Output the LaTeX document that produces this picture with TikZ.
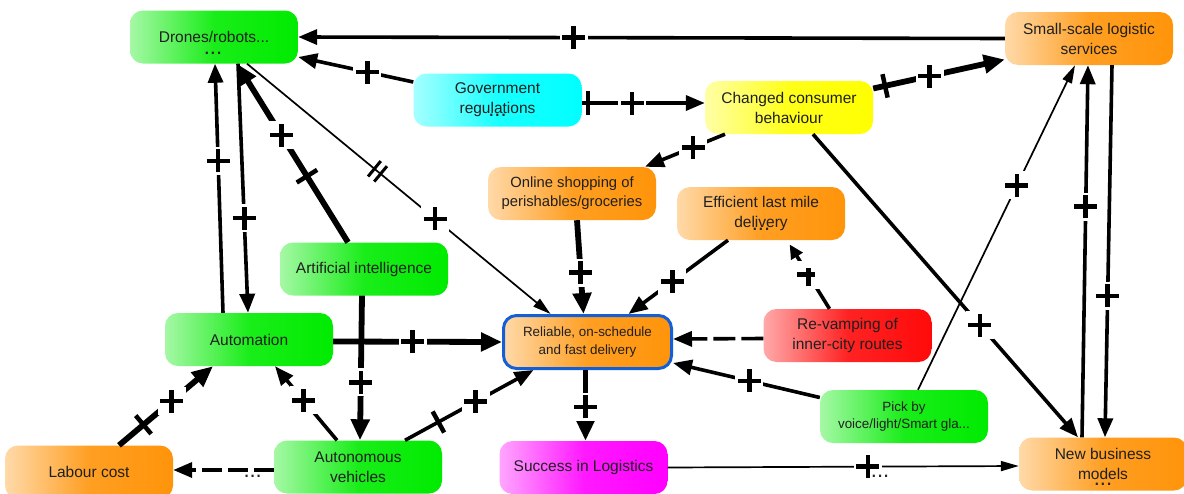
\documentclass[tikz,border=0pt]{standalone}
\usepackage{fontspec}
\setmainfont{Liberation Sans}
\usetikzlibrary{arrows.meta,calc}
\definecolor{cgreen}{RGB}{0,235,0}
\definecolor{corange}{RGB}{255,148,10}
\definecolor{ccyan}{RGB}{0,255,255}
\definecolor{cyellow}{RGB}{255,255,0}
\definecolor{cred}{RGB}{255,10,10}
\definecolor{cmag}{RGB}{255,0,255}
\definecolor{cblue}{RGB}{20,95,215}
\newcommand{\tickA}{\rule[-12pt]{4.5pt}{24pt}}
\newcommand{\delayA}{\rule[-10pt]{3pt}{20pt}\hspace{5pt}\rule[-10pt]{3pt}{20pt}}
\begin{document}
\begin{tikzpicture}[x=1pt,y=-1pt,
  box/.style={rounded corners=13pt, minimum width=168pt, minimum height=53pt,
    inner sep=2pt, align=center, text=black!88,
    font=\fontsize{15.5}{20}\selectfont},
  sbox/.style={box, left color=#1!35!white, right color=#1, middle color=#1!90!white},
  ethin/.style={line width=1.7pt, -{Triangle[length=18pt,width=10pt]}},
  emed/.style={line width=3.6pt, -{Triangle[length=19pt,width=15pt]}},
  ethick/.style={line width=5.8pt, -{Triangle[length=21pt,width=18pt]}},
  pl/.style={fill=white, inner sep=0pt, minimum size=28pt,
    path picture={
      \draw[arrows=-, solid, line width=4.6pt, line cap=butt] (path picture bounding box.center) ++(-11.5pt,0) -- ++(23pt,0);
      \draw[arrows=-, solid, line width=4.6pt, line cap=butt] (path picture bounding box.center) ++(0,-11.5pt) -- ++(0,23pt);
    }},
  tk/.style={sloped, inner sep=0pt, text=black},
  dots/.style={inner sep=0pt, text=black!85, font=\fontsize{22}{22}\selectfont},
]
\useasboundingbox[fill=white] (0,0) rectangle (1184,493);

% nodes
\node[sbox=corange] (small) at (1089,38.5) {Small-scale logistic\\services};
\node[sbox=cgreen] (drones) at (214,37) {Drones/robots...};
\node[sbox=ccyan] (gov) at (497.5,100) {Government\\regulations};
\node[sbox=cyellow] (changed) at (789,107.5) {Changed consumer\\behaviour};
\node[sbox=corange, font=\fontsize{14.8}{19}\selectfont] (online) at (572,193.5) {Online shopping of\\perishables/groceries};
\node[sbox=corange] (efficient) at (761,213.5) {Efficient last mile\\delivery};
\node[sbox=cgreen] (ai) at (364,269) {Artificial intelligence};
\node[sbox=cgreen] (automation) at (249,339.5) {Automation};
\node[sbox=corange, draw=cblue, line width=3pt, font=\fontsize{13.4}{18}\selectfont] (reliable) at (587.5,342) {Reliable, on-schedule\\and fast delivery};
\node[sbox=cred] (revamp) at (847.5,335.5) {Re-vamping of\\inner-city routes};
\node[sbox=cgreen, font=\fontsize{13.4}{17}\selectfont] (pick) at (904,416.5) {Pick by\\voice/light/Smart gla...};
\node[sbox=corange] (labour) at (89,472) {Labour cost};
\node[sbox=cgreen] (autonomous) at (358,467) {Autonomous\\vehicles};
\node[sbox=cmag] (success) at (583.5,467.5) {Success in Logistics};
\node[sbox=corange] (newbiz) at (1103,464) {New business\\models};

% ellipsis marks
\node[dots] (d1) at ($(drones)+(-1,16)$) {...};
\node[dots] (d2) at ($(gov)+(0,15)$) {...};
\node[dots] (d3) at ($(efficient)+(0,15.5)$) {...};
\node[dots] (d4) at ($(newbiz)+(0,20)$) {...};

% connectors
\draw[emed] (small.west) -- node[pl,pos=0.61]{} (drones.east);
\draw[emed] ([yshift=18pt]gov.west) -- node[pl,pos=0.4]{} ([yshift=-20pt]drones.east);
\draw[emed] ([yshift=-3pt]gov.east) -- node[tk,pos=0.05]{\tickA} node[pl,pos=0.41]{} ([yshift=4.5pt]changed.west);
\draw[ethick] ([yshift=19pt]changed.east) -- node[tk,pos=0.09]{\tickA} node[pl,pos=0.43]{} ([yshift=-21pt]small.west);
\draw[emed] ([xshift=-64pt]changed.south) -- node[pl,pos=0.4]{} ([xshift=73pt]online.north);
\draw[emed] ([xshift=24pt]changed.south) -- node[pl,pos=0.63]{} ([xshift=-25pt]newbiz.north);
\draw[emed] ([xshift=-26pt]automation.north) -- node[pl,pos=0.61]{} ([xshift=1pt]drones.south);
\draw[emed] ([xshift=24pt]drones.south) -- node[pl,pos=0.62]{} ([xshift=-1pt]automation.north);
\draw[ethick] ([xshift=-16pt]ai.north) -- node[tk,pos=0.37]{\tickA} node[pl,pos=0.6]{} ([xshift=23pt]drones.south);
\draw[ethin] ([xshift=33pt]drones.south) -- node[tk,pos=0.43]{\delayA} node[pl,pos=0.62]{} ([xshift=-37pt]reliable.north);
\draw[ethick] ([xshift=5pt]online.south) -- node[pl,pos=0.56]{} ([xshift=-4pt]reliable.north);
\draw[emed] ([xshift=-33pt]efficient.south) -- node[pl,pos=0.56]{} ([xshift=41pt]reliable.north);
\draw[line width=3.6pt, -{Triangle[length=14pt,width=13pt]}, shorten >=5pt] ([xshift=-18pt]revamp.north) -- node[pl,pos=0.5]{} ([xshift=26pt]efficient.south);
\draw[emed, dash pattern=on 22pt off 6pt] ([yshift=-3pt]revamp.west) -- ([yshift=3pt]reliable.east);
\draw[emed] ([yshift=19pt]pick.west) -- node[pl,pos=0.48]{} ([yshift=-21pt]reliable.east);
\draw[ethin] ([xshift=14pt]pick.north) -- node[pl,pos=0.63]{} ([xshift=-14pt]small.south);
\draw[ethick] ([yshift=-2pt]automation.east) -- node[pl,pos=0.47]{} (reliable.west);
\draw[ethick] ([xshift=-2pt]ai.south) -- node[pl,pos=0.6]{} ([xshift=2pt]autonomous.north);
\draw[emed] ([xshift=-21pt]autonomous.north) -- node[pl,pos=0.54]{} ([xshift=26pt]automation.south);
\draw[ethick] ([xshift=30pt]labour.north) -- node[tk,pos=0.26]{\tickA} node[pl,pos=0.56]{} ([xshift=-36pt]automation.south);
\draw[emed, dash pattern=on 20pt off 6pt] ([yshift=-3pt]autonomous.west) -- node[dots,pos=0.21,below=3pt]{...} ([yshift=2pt]labour.east);
\draw[emed] ([xshift=47pt]autonomous.north) -- node[tk,pos=0.26]{\tickA} node[pl,pos=0.55]{} ([xshift=-54pt]reliable.south);
\draw[ethick] ([xshift=-2pt]reliable.south) -- node[pl,pos=0.52]{} ([xshift=2pt]success.north);
\draw[ethin] (success.east) -- node[pl,pos=0.57]{} node[dots,pos=0.605,below=8pt]{...} ([yshift=-2pt]newbiz.west);
\draw[emed] ([xshift=-21pt]newbiz.north) -- node[pl,pos=0.62]{} ([xshift=-1pt]small.south);
\draw[emed] ([xshift=23pt]small.south) -- node[pl,pos=0.62]{} ([xshift=2pt]newbiz.north);
\end{tikzpicture}
\end{document}
